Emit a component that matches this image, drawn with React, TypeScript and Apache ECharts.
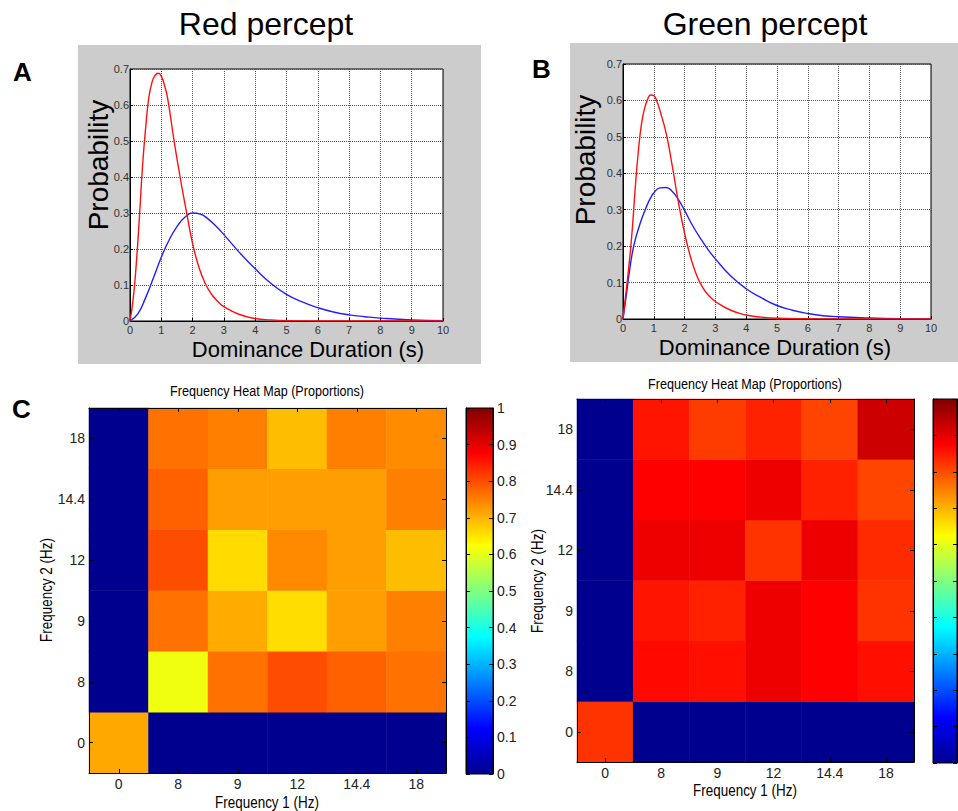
import React, { useEffect, useRef } from "react";
import * as echarts from "echarts";

// ---------- Data ----------
// Panel A: Red percept (dominance-duration distributions)
const redAX = [0, 0.1, 0.2, 0.3, 0.4, 0.5, 0.6, 0.7, 0.8, 0.9, 1.0, 1.1, 1.2, 1.4, 1.6, 1.8, 2.0, 2.2, 2.4, 2.6, 2.8, 3.0, 3.5, 4.0, 4.5, 5, 6, 7, 8, 9, 10];
const redAY = [0, 0.06, 0.158, 0.287, 0.43, 0.536, 0.62, 0.662, 0.682, 0.688, 0.68, 0.655, 0.62, 0.505, 0.4, 0.305, 0.215, 0.15, 0.105, 0.075, 0.055, 0.04, 0.018, 0.007, 0.003, 0.001, 0, 0, 0, 0, 0];
const blueAX = [0, 0.25, 0.5, 0.75, 1, 1.25, 1.5, 1.75, 2, 2.25, 2.5, 2.75, 3, 3.5, 4, 4.5, 5, 5.5, 6, 6.5, 7, 7.5, 8, 9, 10];
const blueAY = [0, 0.02, 0.065, 0.12, 0.177, 0.225, 0.262, 0.288, 0.3, 0.297, 0.283, 0.263, 0.24, 0.19, 0.145, 0.105, 0.074, 0.053, 0.037, 0.025, 0.017, 0.012, 0.008, 0.003, 0.001];

// Panel B: Green percept
const redBX = [0, 0.1, 0.2, 0.3, 0.4, 0.5, 0.6, 0.7, 0.8, 0.9, 1.0, 1.1, 1.2, 1.4, 1.6, 1.8, 2.0, 2.2, 2.4, 2.6, 2.8, 3.0, 3.5, 4.0, 4.5, 5, 6, 7, 8, 9, 10];
const redBY = [0, 0.075, 0.152, 0.245, 0.363, 0.462, 0.535, 0.578, 0.603, 0.615, 0.613, 0.598, 0.572, 0.51, 0.42, 0.32, 0.235, 0.168, 0.118, 0.085, 0.063, 0.048, 0.024, 0.011, 0.005, 0.002, 0.0005, 0, 0, 0, 0];
const blueBX = [0, 0.1, 0.2, 0.3, 0.4, 0.5, 0.6, 0.7, 0.8, 0.9, 1.0, 1.2, 1.4, 1.6, 1.8, 2.0, 2.25, 2.5, 2.75, 3.0, 3.5, 4.0, 4.5, 5, 5.5, 6, 6.5, 7, 8, 9, 10];
const blueBY = [0, 0.06, 0.125, 0.18, 0.218, 0.247, 0.273, 0.295, 0.316, 0.333, 0.346, 0.36, 0.361, 0.35, 0.328, 0.298, 0.258, 0.223, 0.192, 0.165, 0.118, 0.083, 0.058, 0.037, 0.024, 0.015, 0.009, 0.006, 0.003, 0.001, 0];

// Heat maps: frequency categories (Hz)
const freqLabels = ["0", "8", "9", "12", "14.4", "18"];
// rows = Frequency 2 (bottom -> top: 0, 8, 9, 12, 14.4, 18); columns = Frequency 1
const heatC = [
  [0.71, 0, 0, 0, 0, 0],
  [0, 0.61, 0.765, 0.8, 0.78, 0.765],
  [0, 0.765, 0.708, 0.658, 0.72, 0.75],
  [0, 0.8, 0.66, 0.74, 0.72, 0.69],
  [0, 0.78, 0.72, 0.72, 0.72, 0.75],
  [0, 0.765, 0.75, 0.69, 0.75, 0.738],
];
const heatD = [
  [0.825, 0, 0, 0, 0, 0],
  [0, 0.867, 0.86, 0.892, 0.875, 0.86],
  [0, 0.855, 0.843, 0.892, 0.875, 0.825],
  [0, 0.892, 0.892, 0.825, 0.892, 0.834],
  [0, 0.875, 0.875, 0.892, 0.843, 0.808],
  [0, 0.855, 0.816, 0.842, 0.81, 0.925],
];

const durationTicks = { min: 0, max: 10, interval: 1 };
const probTicks = { min: 0, max: 0.7, interval: 0.1 };
const barTicks = { min: 0, max: 1, interval: 0.1 };

// jet colormap stops (evenly spaced)
const jetColors = ["#00008F", "#0000FF", "#0080FF", "#00FFFF", "#80FF80", "#FFFF00", "#FF8000", "#FF0000", "#800000"];

// ---------- Styles ----------
const FONT = "'Liberation Sans', Arial, Helvetica, sans-serif";

function toPairs(xs: number[], ys: number[]) {
  return xs.map((x, i) => [x, ys[i]]);
}
function toCells(m: number[][]) {
  const out: number[][] = [];
  m.forEach((row, yi) => row.forEach((v, xi) => out.push([xi, yi, v])));
  return out;
}

function lineX(gridIndex: number) {
  return {
    gridIndex,
    type: "value",
    ...durationTicks,
    axisLine: { show: true, onZero: false, lineStyle: { color: "#000", width: 1 } },
    axisTick: { show: true, inside: true, length: 3, lineStyle: { color: "#000" } },
    axisLabel: { fontSize: 11, color: "#333", margin: 3, fontFamily: FONT },
    splitLine: { show: true, lineStyle: { color: "#555", type: "dotted", width: 1 } },
  };
}
function lineY(gridIndex: number) {
  return {
    gridIndex,
    type: "value",
    ...probTicks,
    axisLine: { show: true, onZero: false, lineStyle: { color: "#000", width: 1 } },
    axisTick: { show: true, inside: true, length: 3, lineStyle: { color: "#000" } },
    axisLabel: { fontSize: 11, color: "#333", margin: 1, fontFamily: FONT },
    splitLine: { show: true, lineStyle: { color: "#555", type: "dotted", width: 1 } },
  };
}
function catAxis(gridIndex: number, position: string, labels: boolean) {
  return {
    gridIndex,
    type: "category",
    position,
    data: freqLabels,
    z: 5,
    axisLine: { show: true, onZero: false, lineStyle: { color: "#000", width: 1 } },
    axisTick: { show: true, inside: true, alignWithLabel: true, length: 4, lineStyle: { color: "#000" } },
    axisLabel: { show: labels, fontSize: 14, color: "#222", margin: 4, fontFamily: FONT },
    splitLine: { show: false },
  };
}
function barY(gridIndex: number, position: string, labels: boolean) {
  return {
    gridIndex,
    type: "value",
    position,
    ...barTicks,
    z: 5,
    axisLine: { show: true, onZero: false, lineStyle: { color: "#000", width: 1 } },
    axisTick: { show: true, inside: true, length: 4, lineStyle: { color: "#000" } },
    axisLabel: { show: labels, fontSize: 14, color: "#222", margin: 4, fontFamily: FONT },
    splitLine: { show: false },
  };
}
function hiddenX(gridIndex: number) {
  return { gridIndex, type: "value", min: 0, max: 1, show: false };
}

function txt(text: string, x: number, y: number, size: number, opts: any = {}) {
  return {
    type: "text",
    x,
    y,
    rotation: opts.rotation || 0,
    scaleX: opts.scaleX || 1,
    scaleY: opts.scaleY || 1,
    z: 10,
    style: {
      text,
      fill: opts.color || "#000",
      fontSize: size,
      fontFamily: FONT,
      fontWeight: opts.weight || "normal",
      textAlign: opts.align || "center",
      textVerticalAlign: "middle",
    },
  };
}

export default function App() {
  const ref = useRef<HTMLDivElement>(null);
  useEffect(() => {
    if (!ref.current) return;
    const chart = echarts.init(ref.current, undefined, { renderer: "svg" });
    const jetGradient = new echarts.graphic.LinearGradient(
      0, 1, 0, 0,
      jetColors.map((c, i) => ({ offset: i / (jetColors.length - 1), color: c }))
    );
    const option: any = {
      animation: false,
      backgroundColor: "#fff",
      grid: [
        { left: 130, top: 69, width: 313, height: 252, show: true, backgroundColor: "#fff", borderColor: "#000", borderWidth: 1 },
        { left: 623, top: 64, width: 308, height: 255, show: true, backgroundColor: "#fff", borderColor: "#000", borderWidth: 1 },
        { left: 89, top: 408, width: 357, height: 365 },
        { left: 466, top: 408, width: 27, height: 366, show: true, backgroundColor: jetGradient, borderColor: "#000", borderWidth: 1 },
        { left: 577, top: 399, width: 337, height: 363 },
        { left: 933, top: 399, width: 24, height: 364, show: true, backgroundColor: jetGradient, borderColor: "#000", borderWidth: 1 },
      ],
      xAxis: [
        lineX(0),
        lineX(1),
        catAxis(2, "bottom", true),
        catAxis(2, "top", false),
        hiddenX(3),
        catAxis(4, "bottom", true),
        catAxis(4, "top", false),
        hiddenX(5),
      ],
      yAxis: [
        lineY(0),
        lineY(1),
        catAxis(2, "left", true),
        catAxis(2, "right", false),
        barY(3, "right", true),
        barY(3, "left", false),
        catAxis(4, "left", true),
        catAxis(4, "right", false),
        barY(5, "right", false),
        barY(5, "left", false),
      ],
      visualMap: {
        type: "continuous",
        show: false,
        min: 0,
        max: 1,
        seriesIndex: [4, 5],
        inRange: { color: jetColors },
      },
      series: [
        {
          type: "line", xAxisIndex: 0, yAxisIndex: 0, data: toPairs(blueAX, blueAY),
          showSymbol: false, smooth: 0.5,
          lineStyle: { color: "#2020FF", width: 1.4 }, itemStyle: { color: "#2020FF" },
        },
        {
          type: "line", xAxisIndex: 0, yAxisIndex: 0, data: toPairs(redAX, redAY),
          showSymbol: false, smooth: 0.5,
          lineStyle: { color: "#FF1010", width: 1.4 }, itemStyle: { color: "#FF1010" },
        },
        {
          type: "line", xAxisIndex: 1, yAxisIndex: 1, data: toPairs(blueBX, blueBY),
          showSymbol: false, smooth: 0.5,
          lineStyle: { color: "#2020FF", width: 1.4 }, itemStyle: { color: "#2020FF" },
        },
        {
          type: "line", xAxisIndex: 1, yAxisIndex: 1, data: toPairs(redBX, redBY),
          showSymbol: false, smooth: 0.5,
          lineStyle: { color: "#FF1010", width: 1.4 }, itemStyle: { color: "#FF1010" },
        },
        {
          type: "heatmap", xAxisIndex: 2, yAxisIndex: 2, data: toCells(heatC),
          emphasis: { disabled: true }, itemStyle: { borderWidth: 0 },
        },
        {
          type: "heatmap", xAxisIndex: 5, yAxisIndex: 6, data: toCells(heatD),
          emphasis: { disabled: true }, itemStyle: { borderWidth: 0 },
        },
      ],
      graphic: [
        { type: "rect", z: -5, shape: { x: 78, y: 45, width: 403, height: 319 }, style: { fill: "#CCCCCC" } },
        { type: "rect", z: -5, shape: { x: 570, y: 43, width: 388, height: 319 }, style: { fill: "#CCCCCC" } },
        txt("Red percept", 266, 24, 32),
        txt("Green percept", 765, 24, 32),
        txt("A", 13, 72, 26, { weight: "bold", align: "left" }),
        txt("B", 532, 69, 26, { weight: "bold", align: "left" }),
        txt("C", 12, 409, 26, { weight: "bold", align: "left" }),
        txt("Probability", 98, 165, 28, { rotation: Math.PI / 2 }),
        txt("Dominance Duration (s)", 308, 349, 22),
        txt("Probability", 585, 160, 28, { rotation: Math.PI / 2 }),
        txt("Dominance Duration (s)", 775, 347, 22),
        txt("Frequency Heat Map (Proportions)", 267, 391, 15, { scaleX: 0.84 }),
        txt("Frequency 1 (Hz)", 267, 803, 16, { scaleX: 0.84 }),
        txt("Frequency 2 (Hz)", 47, 590, 16, { rotation: Math.PI / 2, scaleX: 0.84 }),
        txt("Frequency Heat Map (Proportions)", 745, 384, 15, { scaleX: 0.84 }),
        txt("Frequency 1 (Hz)", 745, 791, 16, { scaleX: 0.84 }),
        txt("Frequency 2 (Hz)", 538, 581, 16, { rotation: Math.PI / 2, scaleX: 0.84 }),
      ],
    };
    chart.setOption(option);
    return () => chart.dispose();
  }, []);
  return (
    <div
      ref={ref}
      style={{ position: "absolute", left: 0, top: 0, width: 958, height: 811 }}
    />
  );
}
